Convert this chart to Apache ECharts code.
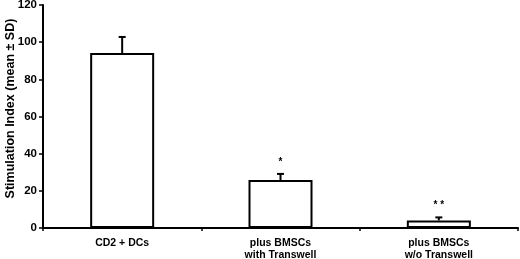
<!DOCTYPE html>
<html><head><meta charset="utf-8">
<script src="https://cdn.jsdelivr.net/npm/echarts@6/dist/echarts.min.js"></script>
<style>html,body{margin:0;padding:0;background:#fff}#c{width:520px;height:259px}</style>
</head><body><div id="c"></div>
<script>
const categories = ['CD2 + DCs', 'plus BMSCs\nwith Transwell', 'plus BMSCs\nw/o Transwell'];
const means = [94.2, 25.8, 4.1];
const sds = [8.6, 3.3, 1.6];
const marks = ['', '*', '* *'];
const yTicks = [0, 20, 40, 60, 80, 100, 120];

const chart = echarts.init(document.getElementById('c'));
const font = 'Liberation Sans, Arial, Helvetica, sans-serif';
chart.setOption({
  animation: false,
  grid: {left: 43, right: 2, top: 5, bottom: 31, containLabel: false, outerBoundsMode: 'none'},
  xAxis: {
    type: 'category', data: categories,
    axisLine: {lineStyle: {color: '#000', width: 2}},
    axisTick: {show: true, length: 3, lineStyle: {color: '#000', width: 1.5}, alignWithLabel: false},
    axisLabel: {color: '#000', fontWeight: 'bold', fontSize: 10.5, fontFamily: font, margin: 9, lineHeight: 12}
  },
  yAxis: {
    type: 'value', min: yTicks[0], max: yTicks[yTicks.length - 1], interval: 20,
    name: 'Stimulation Index (mean ± SD)', nameLocation: 'middle', nameGap: 26, nameMoveOverlap: false,
    nameTextStyle: {color: '#000', fontWeight: 'bold', fontSize: 12.5, fontFamily: font, padding: [0, 0, 0, 16]},
    axisLine: {show: true, lineStyle: {color: '#000', width: 2}},
    axisTick: {show: true, length: 4, lineStyle: {color: '#000', width: 1.5}},
    axisLabel: {color: '#000', fontWeight: 'bold', fontSize: 11.5, fontFamily: font, margin: 6},
    splitLine: {show: false}
  },
  series: [
    {
      type: 'bar', data: means, barWidth: 64,
      itemStyle: {color: '#fff', borderColor: '#000', borderWidth: 2},
      z: 2
    },
    {
      type: 'custom', z: 3,
      data: means.map((m, i) => [i, m, sds[i], marks[i]]),
      renderItem: function (params, api) {
        const x = api.value(0);
        const top = api.coord([x, api.value(1)]);
        const hi = api.coord([x, api.value(1) + api.value(2)]);
        const cap = 3.5;
        const children = [
          {type: 'line', shape: {x1: top[0], y1: top[1], x2: hi[0], y2: hi[1]}, style: {stroke: '#000', lineWidth: 2}},
          {type: 'line', shape: {x1: hi[0] - cap, y1: hi[1], x2: hi[0] + cap, y2: hi[1]}, style: {stroke: '#000', lineWidth: 2}}
        ];
        const mk = marks[params.dataIndex];
        if (mk) {
          children.push({type: 'text', style: {text: mk, x: hi[0], y: hi[1] - 12, textAlign: 'center', textVerticalAlign: 'middle', fill: '#000', font: 'bold 10px ' + font}});
        }
        return {type: 'group', children: children};
      }
    }
  ]
});
</script></body></html>
